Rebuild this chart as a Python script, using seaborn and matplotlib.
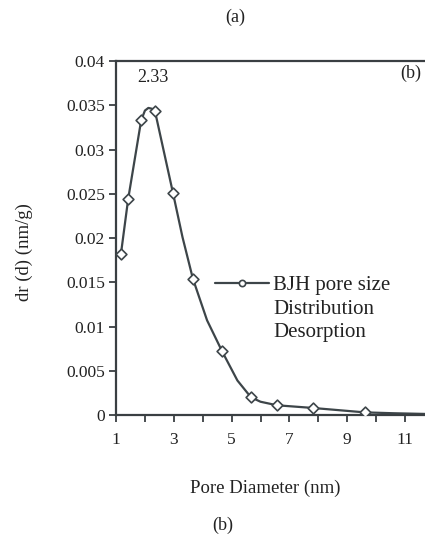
import matplotlib
matplotlib.use("Agg")
import matplotlib.pyplot as plt
from matplotlib.lines import Line2D
import seaborn as sns

# точки с маркерами (BJH, десорбция)
marker_x = [1.17, 1.42, 1.87, 2.35, 2.97, 3.66, 4.67, 5.67, 6.57, 7.80, 9.60]
marker_y = [0.0182, 0.0244, 0.0333, 0.0343, 0.0251, 0.0154, 0.0072, 0.0020, 0.0011, 0.0008, 0.0003]

# сглаженная кривая
curve_x = [1.17, 1.42, 1.87, 2.00, 2.12, 2.25, 2.35, 2.97, 3.30, 3.66, 4.15, 4.67,
           5.20, 5.67, 6.00, 6.57, 7.80, 9.60, 10.60, 12.00]
curve_y = [0.0182, 0.0244, 0.0333, 0.0344, 0.0347, 0.0346, 0.0343, 0.0251, 0.0201, 0.0154,
           0.0107, 0.0072, 0.0039, 0.0020, 0.0015, 0.0011, 0.0008, 0.0003, 0.0002, 0.0001]

x_ticks = list(range(1, 13))
x_labels = ['1', '', '3', '', '5', '', '7', '', '9', '', '11', '']
y_ticks = [0, 0.005, 0.01, 0.015, 0.02, 0.025, 0.03, 0.035, 0.04]
y_labels = ['0', '0.005', '0.01', '0.015', '0.02', '0.025', '0.03', '0.035', '0.04']

sns.set_style("ticks")
plt.rcParams['font.family'] = ['Liberation Serif', 'DejaVu Serif']

line_color = '#3d4549'
axis_color = '#3a3f42'
text_color = '#222222'

fig = plt.figure(figsize=(4.25, 5.38), dpi=100)
ax = fig.add_axes([0.273, 0.2286, 0.748, 0.658])

sns.lineplot(x=curve_x, y=curve_y, color=line_color, linewidth=1.6, ax=ax)
sns.scatterplot(x=marker_x, y=marker_y, marker='D', s=30, facecolor='white',
                edgecolor=line_color, linewidth=1.2, zorder=3, ax=ax)

ax.set_xlim(1, 12)
ax.set_ylim(0, 0.04)
ax.set_xticks(x_ticks)
ax.set_xticklabels(x_labels)
ax.set_yticks(y_ticks)
ax.set_yticklabels(y_labels)
ax.tick_params(axis='both', direction='out', length=5, width=1.3, color=axis_color,
               labelsize=12.5, labelcolor=text_color)
ax.tick_params(axis='x', pad=7)
ax.tick_params(axis='y', pad=3)

for side in ['left', 'bottom', 'top']:
    ax.spines[side].set_color(axis_color)
    ax.spines[side].set_linewidth(1.6)
ax.spines['right'].set_visible(False)

ax.set_xlabel('Pore Diameter (nm)', fontsize=13.5, color=text_color)
ax.xaxis.set_label_coords(0.47, -0.183)
ax.set_ylabel('dr (d) (nm/g)', fontsize=13.5, color=text_color)
ax.yaxis.set_label_coords(-0.262, 0.46)

ax.text(2.28, 0.0381, '2.33', fontsize=13, ha='center', va='center', color=text_color)
ax.text(10.83, 0.0386, '(b)', fontsize=13, ha='left', va='center', color=text_color, clip_on=False)

handle = Line2D([], [], color=line_color, linewidth=1.6, marker='o', markersize=4.5,
                markerfacecolor='white', markeredgecolor=line_color, markeredgewidth=1.2)
leg = ax.legend([handle], ['BJH pore size'], loc='center left', bbox_to_anchor=(0.312, 0.3666),
                frameon=False, fontsize=15, handlelength=2.6, handletextpad=0.15,
                borderpad=0, borderaxespad=0)
for t in leg.get_texts():
    t.set_color(text_color)
fig.text(273 / 425, 1 - 309 / 538, 'Distribution', fontsize=15, ha='left', va='center', color=text_color)
fig.text(273 / 425, 1 - 333 / 538, 'Desorption', fontsize=15, ha='left', va='center', color=text_color)

fig.text(235 / 425, 1 - 17 / 538, '(a)', fontsize=13, ha='center', va='center', color=text_color)
fig.text(223 / 425, 1 - 525 / 538, '(b)', fontsize=13, ha='center', va='center', color=text_color)

fig.savefig('out.png', dpi=100)
